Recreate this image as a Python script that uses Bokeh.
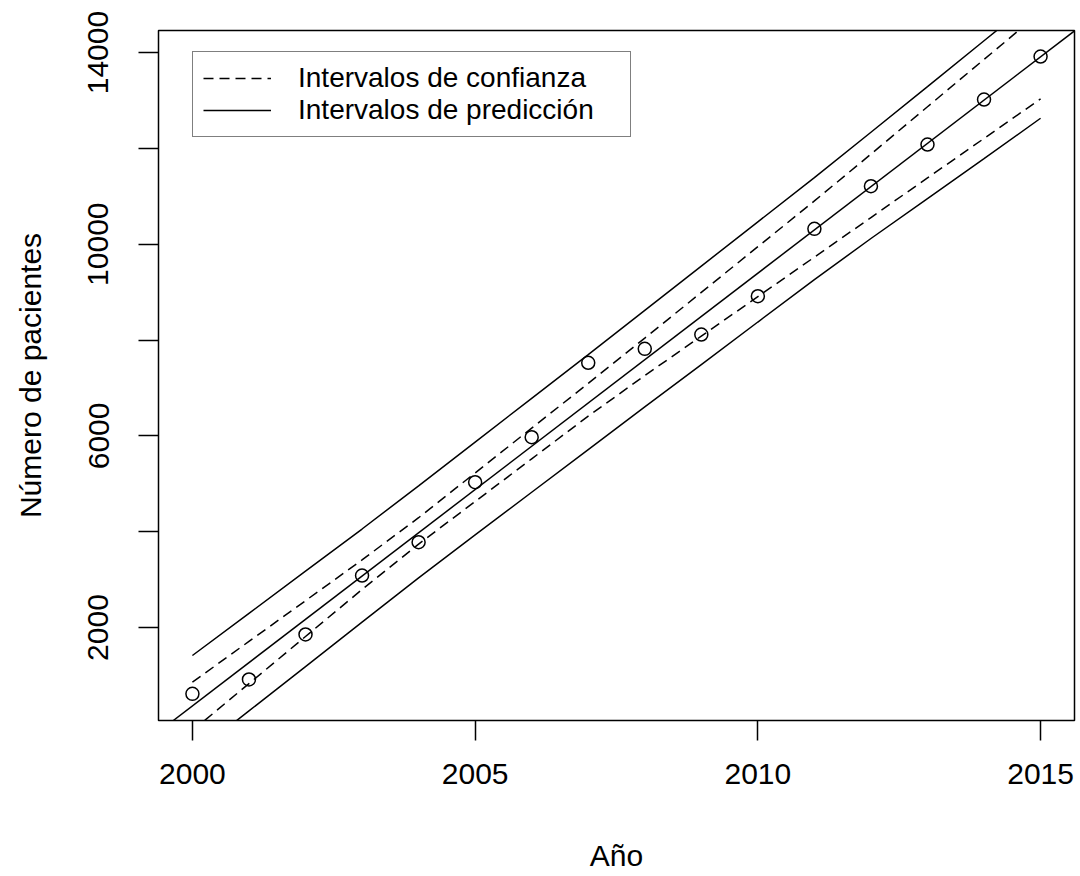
from bokeh.plotting import figure
from bokeh.models import Range1d, FixedTicker, Slope, Legend, LegendItem
from bokeh.embed import file_html
from bokeh.resources import INLINE

# ---- data ----
years = list(range(2000, 2016))
patients = [617, 916, 1855, 3086, 3781, 5033, 5972, 7525, 7817, 8115,
            8914, 10321, 11210, 12080, 13019, 13917]
conf_upper = [859, 1711, 2560, 3412, 4292, 5227, 6162, 7095, 8040, 8994,
              9949, 10903, 11880, 12869, 13856, 14843]
conf_lower = [-151, 830, 1813, 2794, 3741, 4630, 5521, 6412, 7258, 8082,
              8906, 9730, 10557, 11383, 12207, 13034]
pred_upper = [1417, 2297, 3176, 4056, 4958, 5870, 6784, 7696, 8618, 9543,
              10467, 11391, 12337, 13290, 14246, 15200]
pred_lower = [-666, 261, 1185, 2112, 3038, 3933, 4824, 5715, 6604, 7489,
              8376, 9261, 10119, 10951, 11784, 12629]
fit_years = [2000, 2015]
fit_values = [365, 13911]

x_ticks = [2000, 2005, 2010, 2015]
y_ticks = [2000, 4000, 6000, 8000, 10000, 12000, 14000]
y_tick_labels = ["2000", "", "6000", "", "10000", "", "14000"]
legend_labels = ["Intervalos de confianza", "Intervalos de predicción"]

FONT = "Liberation Sans"

p = figure(width=1080, height=876,
           x_range=Range1d(1999.4, 2015.6), y_range=Range1d(60, 14460),
           output_backend="svg", toolbar_location=None,
           min_border_left=158, min_border_right=6,
           min_border_top=30, min_border_bottom=156)

p.xgrid.visible = False
p.ygrid.visible = False
p.outline_line_color = "black"
p.outline_line_width = 1.5
p.background_fill_color = "white"
p.border_fill_color = "white"

lw = 1.5
r_cu = p.line(years, conf_upper, line_color="black", line_width=lw, line_dash="10 6")
p.line(years, conf_lower, line_color="black", line_width=lw, line_dash="10 6")
r_pu = p.line(years, pred_upper, line_color="black", line_width=lw)
p.line(years, pred_lower, line_color="black", line_width=lw)

grad = (fit_values[1] - fit_values[0]) / (fit_years[1] - fit_years[0])
icpt = fit_values[0] - grad * fit_years[0]
p.add_layout(Slope(gradient=grad, y_intercept=icpt, line_color="black", line_width=lw))

p.scatter(years, patients, marker="circle", size=13, fill_color=None,
          line_color="black", line_width=lw)

legend = Legend(items=[LegendItem(label=legend_labels[0], renderers=[r_cu]),
                       LegendItem(label=legend_labels[1], renderers=[r_pu])],
                location=(34, 583))
legend.border_line_color = "black"
legend.border_line_width = 1.5
legend.background_fill_color = "white"
legend.background_fill_alpha = 1
legend.label_text_font = FONT
legend.label_text_font_size = "28px"
legend.label_text_color = "black"
legend.padding = 10
legend.spacing = 0
legend.margin = 0
legend.glyph_width = 68
legend.glyph_height = 24
legend.label_height = 24
legend.label_standoff = 27
legend.label_width = 322
p.add_layout(legend)

for ax in (p.xaxis[0], p.yaxis[0]):
    ax.axis_line_color = None
    ax.major_tick_out = 20
    ax.major_tick_in = 0
    ax.major_tick_line_color = "black"
    ax.major_tick_line_width = 1.5
    ax.minor_tick_line_color = None
    ax.major_label_text_font = FONT
    ax.major_label_text_font_size = "30px"
    ax.major_label_text_color = "black"
    ax.axis_label_text_font = FONT
    ax.axis_label_text_font_size = "30px"
    ax.axis_label_text_font_style = "normal"
    ax.axis_label_text_color = "black"

p.xaxis.ticker = FixedTicker(ticks=x_ticks)
p.xaxis.axis_label = "Año"
p.xaxis.major_label_standoff = 23
p.xaxis.axis_label_standoff = 52

p.yaxis.ticker = FixedTicker(ticks=y_ticks)
p.yaxis.major_label_overrides = {t: l for t, l in zip(y_ticks, y_tick_labels)}
p.yaxis.major_label_orientation = "vertical"
p.yaxis.axis_label = "Número de pacientes"
p.yaxis.major_label_standoff = 30
p.yaxis.axis_label_standoff = 39

open("out.html", "w").write(file_html(p, INLINE))
